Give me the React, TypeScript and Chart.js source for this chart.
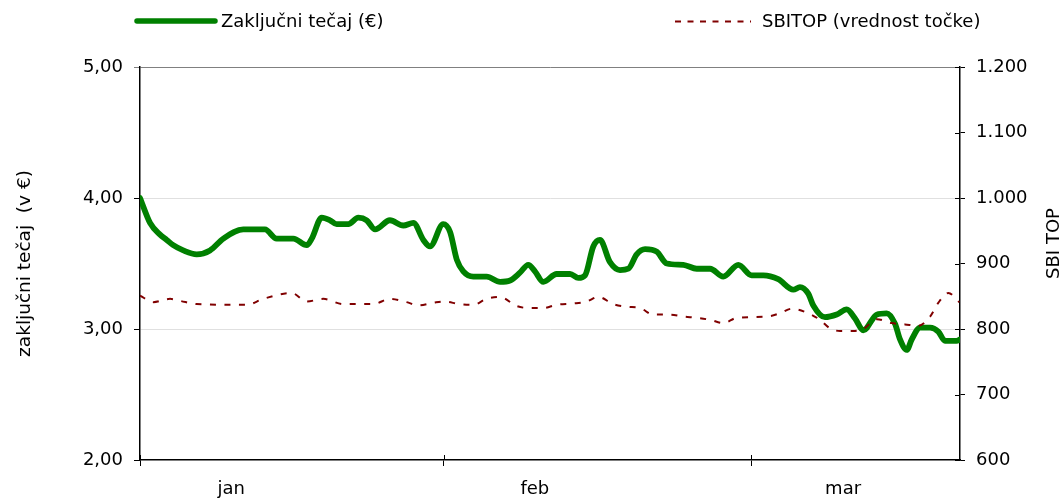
import React, { useEffect, useRef } from 'react';
import { Chart, registerables } from 'chart.js';

Chart.register(...registerables);

// ---- data (x in trading-day units from the start of January) ----
const monthLabels = ['jan', 'feb', 'mar'];
const monthStartDays = [0, 20, 40.25];
const monthLabelDays = [6.0, 26, 46.3];
const dayMin = 0;
const dayMax = 54;

const priceLabel = 'Zaključni tečaj (€)';
const priceDays = [
  0, 0.66, 1.32, 1.76, 2.19, 2.85, 3.73, 4.61, 5.49, 6.8, 8.23, 9.0, 10.1, 10.98, 11.31, 11.97,
  12.51, 12.95, 13.72, 14.38, 14.93, 15.48, 16.46, 17.34, 18.0, 18.66, 19.1, 19.97, 20.42, 20.86,
  21.29, 21.95, 22.83, 23.71, 24.37, 25.02, 25.57, 26.01, 26.56, 27.44, 28.32, 28.86, 29.31, 29.85,
  30.29, 30.95, 31.61, 32.16, 32.71, 33.26, 34.03, 34.69, 35.78, 36.66, 37.54, 38.41, 39.4, 40.28,
  41.05, 42.03, 43.02, 43.46, 44.01, 44.34, 45.11, 45.88, 46.54, 47.09, 47.63, 48.52, 49.17, 49.72,
  50.05, 50.49, 50.82, 51.37, 52.03, 52.57, 53.01, 53.78, 54.0,
];
const priceValues = [
  4.0, 3.81, 3.72, 3.68, 3.64, 3.6, 3.57, 3.6, 3.69, 3.76, 3.76, 3.69, 3.69, 3.64, 3.69, 3.85,
  3.83, 3.8, 3.8, 3.85, 3.83, 3.76, 3.83, 3.79, 3.81, 3.68, 3.63, 3.8, 3.74, 3.53,
  3.44, 3.4, 3.4, 3.36, 3.37, 3.43, 3.49, 3.44, 3.36, 3.42, 3.42, 3.39, 3.41, 3.63,
  3.68, 3.51, 3.45, 3.46, 3.57, 3.61, 3.59, 3.5, 3.49, 3.46, 3.46, 3.4, 3.49, 3.41,
  3.41, 3.38, 3.3, 3.32, 3.27, 3.18, 3.09, 3.11, 3.15, 3.08, 2.99, 3.11, 3.12, 3.04,
  2.92, 2.84, 2.92, 3.01, 3.01, 2.98, 2.91, 2.91, 2.92,
];

const sbitopLabel = 'SBITOP (vrednost točke)';
const sbitopDays = [
  0, 0.88, 1.98, 2.63, 3.73, 5.93, 7.03, 8.12, 9.99, 10.98, 12.07, 13.39, 15.36, 16.46, 17.56, 18.33,
  19.32, 19.97, 21.07, 21.95, 22.83, 23.71, 24.81, 25.68, 26.56, 27.44, 28.53, 29.42, 30.18, 31.17,
  32.05, 32.93, 33.8, 34.9, 35.78, 36.66, 37.54, 38.41, 39.3, 41.27, 42.15, 42.92, 43.91, 44.78,
  45.44, 46.1, 46.97, 47.63, 48.52, 49.5, 50.38, 51.25, 52.03, 52.57, 53.23, 53.95,
];
const sbitopValues = [
  851, 841, 846, 843, 838, 837, 837, 846, 855, 842, 846, 838, 838, 846, 841, 836,
  840, 842, 838, 837, 846, 849, 835, 832, 832, 837, 839, 842, 849, 838,
  834, 832, 822, 822, 819, 817, 814, 809, 817, 819, 824, 831, 825, 814,
  801, 797, 797, 800, 815, 809, 807, 805, 819, 840, 855, 841,
];

const leftTitle = 'zaključni tečaj  (v €)';
const rightTitle = 'SBI TOP';

const FONT = 'DejaVu Sans';
const GREEN = '#008000';
const RED = '#800000';

const fmtPrice = (v: number) => v.toFixed(2).replace('.', ',');
const fmtIndex = (v: number) =>
  v >= 1000 ? `${Math.floor(v / 1000)}.${String(v % 1000).padStart(3, '0')}` : `${v}`;

const decorPlugin = {
  id: 'decor',
  afterDraw(chart: any) {
    const ctx = chart.ctx;
    const a = chart.chartArea;
    ctx.save();
    // inner halves of crossing tick marks
    ctx.strokeStyle = '#000';
    ctx.lineWidth = 1;
    const yR = chart.scales.yRight;
    yR.ticks.forEach((t: any) => {
      const y = Math.round(yR.getPixelForValue(t.value)) + 0.5;
      ctx.beginPath();
      ctx.moveTo(a.right - 5, y);
      ctx.lineTo(a.right, y);
      ctx.stroke();
    });
    const xs = chart.scales.x;
    xs.ticks.forEach((t: any) => {
      const x = Math.round(xs.getPixelForValue(t.value)) + 0.5;
      ctx.beginPath();
      ctx.moveTo(x, a.bottom - 5);
      ctx.lineTo(x, a.bottom);
      ctx.stroke();
    });

    // right axis title (reads bottom to top)
    ctx.fillStyle = '#000';
    ctx.font = `18px "${FONT}"`;
    ctx.textAlign = 'center';
    ctx.textBaseline = 'middle';
    ctx.save();
    ctx.translate(chart.width - 9, (a.top + a.bottom) / 2 - 20);
    ctx.rotate(-Math.PI / 2);
    ctx.fillText(rightTitle, 0, 0);
    ctx.restore();

    // legend
    const ds = chart.data.datasets;
    ctx.textAlign = 'left';
    ctx.lineCap = 'round';
    ctx.strokeStyle = ds[0].borderColor;
    ctx.lineWidth = 5.5;
    ctx.setLineDash([]);
    ctx.beginPath();
    ctx.moveTo(137, 21);
    ctx.lineTo(215, 21);
    ctx.stroke();
    ctx.fillText(ds[0].label, 221, 22);

    ctx.lineCap = 'butt';
    ctx.strokeStyle = ds[1].borderColor;
    ctx.lineWidth = 2;
    ctx.setLineDash([6, 6.5]);
    ctx.beginPath();
    ctx.moveTo(675, 21.5);
    ctx.lineTo(751, 21.5);
    ctx.stroke();
    ctx.setLineDash([]);
    ctx.fillText(ds[1].label, 762, 22);
    ctx.restore();
  },
};

export default function App() {
  const ref = useRef<HTMLCanvasElement | null>(null);

  useEffect(() => {
    if (!ref.current) return;
    Chart.defaults.font.family = FONT;
    Chart.defaults.font.size = 18;
    Chart.defaults.color = '#000';

    const chart = new Chart(ref.current, {
      type: 'line',
      data: {
        datasets: [
          {
            label: priceLabel,
            data: priceDays.map((d, i) => ({ x: d, y: priceValues[i] })),
            yAxisID: 'y',
            xAxisID: 'x',
            borderColor: GREEN,
            borderWidth: 5.8,
            borderCapStyle: 'round',
            borderJoinStyle: 'round',
            pointRadius: 0,
            cubicInterpolationMode: 'monotone',
            fill: false,
            order: 2,
          },
          {
            label: sbitopLabel,
            data: sbitopDays.map((d, i) => ({ x: d, y: sbitopValues[i] })),
            yAxisID: 'yRight',
            xAxisID: 'x',
            borderColor: RED,
            borderWidth: 2,
            borderDash: [6, 8.5],
            pointRadius: 0,
            cubicInterpolationMode: 'monotone',
            fill: false,
            order: 1,
          },
        ],
      },
      options: {
        responsive: false,
        animation: false,
        events: [],
        layout: { padding: { top: 67, left: 0, right: 0, bottom: 0 } },
        plugins: { legend: { display: false }, tooltip: { enabled: false } },
        scales: {
          x: {
            type: 'linear',
            position: 'bottom',
            min: dayMin,
            max: dayMax,
            afterBuildTicks: (s: any) => {
              s.ticks = monthStartDays.map((v) => ({ value: v }));
            },
            afterFit: (s: any) => {
              s.height = 6;
            },
            ticks: { display: false },
            grid: { drawOnChartArea: false, color: '#000', tickLength: 6, lineWidth: 1 },
            border: { display: true, color: '#000', width: 1.5 },
          },
          xLabels: {
            type: 'linear',
            position: 'bottom',
            min: dayMin,
            max: dayMax,
            afterBuildTicks: (s: any) => {
              s.ticks = monthLabelDays.map((v) => ({ value: v }));
            },
            afterFit: (s: any) => {
              s.height = 34;
            },
            ticks: {
              padding: 13,
              maxRotation: 0,
              autoSkip: false,
              callback: (_v: any, i: number) => monthLabels[i],
            },
            grid: { display: false, drawTicks: false },
            border: { display: false },
          },
          y: {
            type: 'linear',
            position: 'left',
            min: 2,
            max: 5,
            afterFit: (s: any) => {
              s.width = 140;
            },
            ticks: { stepSize: 1, padding: 11, callback: (v: any) => fmtPrice(Number(v)) },
            grid: {
              color: (c: any) =>
                c.tick && c.tick.value === 5 ? '#808080' : c.tick && c.tick.value === 2 ? 'rgba(0,0,0,0)' : '#e0e0e0',
              tickColor: (c: any) => (c.tick && c.tick.value === 5 ? '#808080' : '#000'),
              tickLength: 6,
              lineWidth: 1,
            },
            border: { display: true, color: '#000', width: 1.5 },
            title: { display: true, text: leftTitle, padding: { top: 14, bottom: 0 }, font: { size: 18.5 } },
          },
          yRight: {
            type: 'linear',
            position: 'right',
            min: 600,
            max: 1200,
            afterFit: (s: any) => {
              s.width = 103;
            },
            ticks: { stepSize: 100, padding: 11, callback: (v: any) => fmtIndex(Number(v)) },
            grid: { drawOnChartArea: false, color: '#000', tickLength: 5, lineWidth: 1 },
            border: { display: true, color: '#000', width: 1.5 },
          },
        },
      },
      plugins: [decorPlugin],
    } as any);

    return () => chart.destroy();
  }, []);

  return (
    <div style={{ width: 1063, height: 500 }}>
      <style>{'body{margin:0}'}</style>
      <canvas ref={ref} width={1063} height={500} style={{ display: 'block' }} />
    </div>
  );
}
